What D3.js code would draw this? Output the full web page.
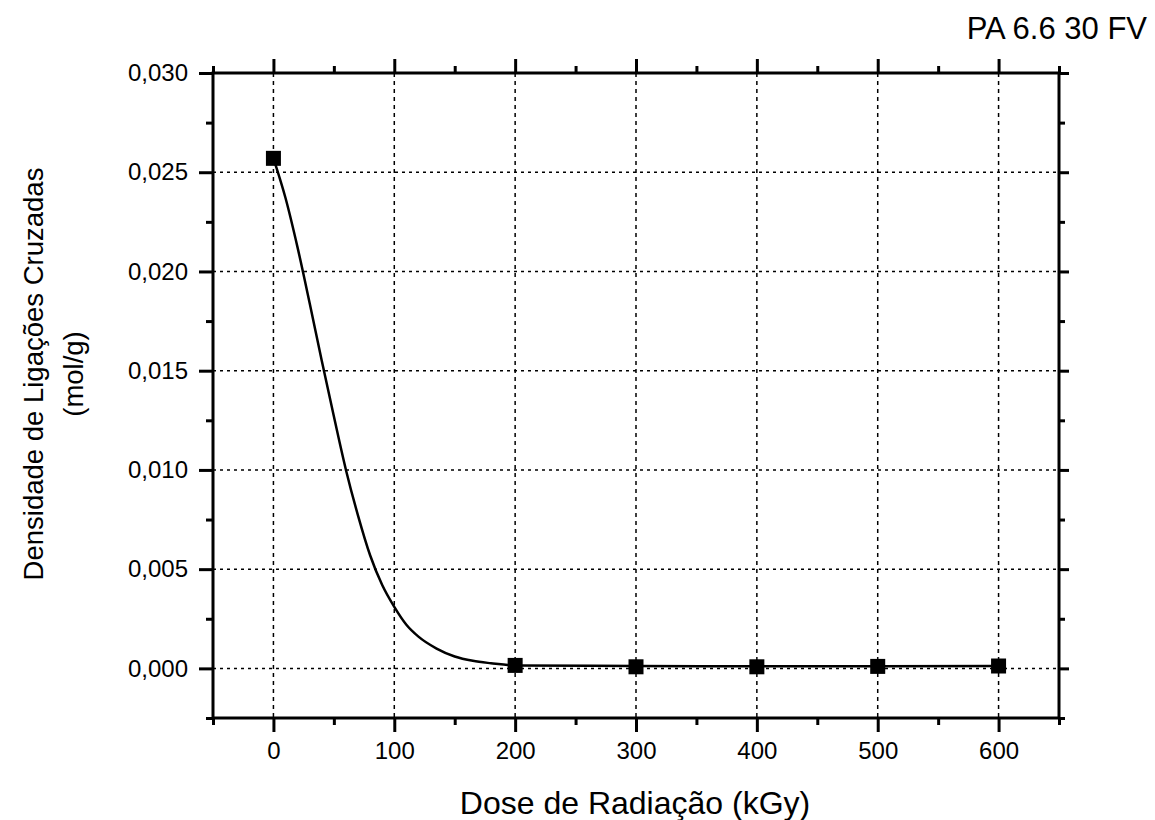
<html>
<head>
<style>
  body { margin: 0; background: #fff; }
  text { font-family: "Liberation Sans", Arial, sans-serif; fill: #000; }
</style>
</head>
<body>
<svg id="chart" width="1155" height="820"></svg>

<script src="https://cdn.jsdelivr.net/npm/d3@7"></script>
<script>
// measured points
var doses = [0, 200, 300, 400, 500, 600]
var density = [0.0257, 0.00015, 0.00008, 0.00008, 0.0001, 0.00012]

// fitted curve
var fitDose = [0, 10, 20, 30, 40, 50, 60, 70, 80, 90, 100, 110, 120, 135, 150, 165, 180, 200, 300, 400, 500, 600]
var fitDensity = [0.0257, 0.0237, 0.0212, 0.0184, 0.0155, 0.0127, 0.0100, 0.0077, 0.0057, 0.0042, 0.0031, 0.0022, 0.0016, 0.0010, 0.0006, 0.00038, 0.00026, 0.00015, 0.00012, 0.00011, 0.00011, 0.00012]

var xMajor = [0, 100, 200, 300, 400, 500, 600]
var xMinor = [-50, 50, 150, 250, 350, 450, 550, 650]
var yMajor = [0, 0.005, 0.010, 0.015, 0.020, 0.025, 0.030]
var yMinor = [-0.0025, 0.0025, 0.0075, 0.0125, 0.0175, 0.0225, 0.0275]

var margin = {left: 213, right: 1059, top: 73, bottom: 718}

var svg = d3.select('#chart')

var x = d3.scaleLinear().domain([-50, 650]).range([margin.left, margin.right])
var y = d3.scaleLinear().domain([-0.0025, 0.030]).range([margin.bottom, margin.top])

var fmt = function(d) { return d3.format('.3f')(d).replace('.', ',') }

// grid
var grid = svg.append('g')
grid.selectAll('.vg').data(xMajor).enter().append('line')
  .attr('x1', d => x(d)).attr('x2', d => x(d))
  .attr('y1', margin.top).attr('y2', margin.bottom)
  .attr('stroke', '#000').attr('stroke-width', 1.5).attr('stroke-dasharray', '4,4')
grid.selectAll('.hg').data(yMajor.slice(0, -1)).enter().append('line')
  .attr('y1', d => y(d)).attr('y2', d => y(d))
  .attr('x1', margin.left).attr('x2', margin.right)
  .attr('stroke', '#000').attr('stroke-width', 1.5).attr('stroke-dasharray', '3,4')

// axes, ticks outward on all four sides
function axis(gen, tr) {
  var g = svg.append('g').attr('transform', tr).call(gen)
  g.select('.domain').remove()
  g.selectAll('line').attr('stroke', '#000').attr('stroke-width', 3)
  return g
}
axis(d3.axisBottom(x).tickValues(xMajor).tickSize(14).tickPadding(10).tickFormat(d3.format('d')), 'translate(0,' + margin.bottom + ')')
  .selectAll('text').style('font-size', '24px')
axis(d3.axisBottom(x).tickValues(xMinor).tickSize(7).tickFormat(''), 'translate(0,' + margin.bottom + ')')
axis(d3.axisTop(x).tickValues(xMajor).tickSize(14).tickFormat(''), 'translate(0,' + margin.top + ')')
axis(d3.axisTop(x).tickValues(xMinor).tickSize(7).tickFormat(''), 'translate(0,' + margin.top + ')')
axis(d3.axisLeft(y).tickValues(yMajor).tickSize(14).tickPadding(11).tickFormat(fmt), 'translate(' + margin.left + ',0)')
  .selectAll('text').style('font-size', '24px')
axis(d3.axisLeft(y).tickValues(yMinor).tickSize(7).tickFormat(''), 'translate(' + margin.left + ',0)')
axis(d3.axisRight(y).tickValues(yMajor).tickSize(10).tickFormat(''), 'translate(' + margin.right + ',0)')
axis(d3.axisRight(y).tickValues(yMinor).tickSize(6).tickFormat(''), 'translate(' + margin.right + ',0)')

// frame
svg.append('rect')
  .attr('x', margin.left).attr('y', margin.top)
  .attr('width', margin.right - margin.left).attr('height', margin.bottom - margin.top)
  .attr('fill', 'none').attr('stroke', '#000').attr('stroke-width', 3)

// fitted curve
var line = d3.line()
  .x((d, i) => x(fitDose[i]))
  .y(d => y(d))
  .curve(d3.curveMonotoneX)
svg.append('path')
  .datum(fitDensity)
  .attr('d', line)
  .attr('fill', 'none').attr('stroke', '#000').attr('stroke-width', 2.5)

// markers
svg.selectAll('.pt').data(doses).enter().append('rect')
  .attr('x', d => x(d) - 7.5)
  .attr('y', (d, i) => y(density[i]) - 7.5)
  .attr('width', 15).attr('height', 15)
  .attr('fill', '#000')

// labels
svg.append('text')
  .attr('x', 635).attr('y', 814)
  .attr('text-anchor', 'middle').style('font-size', '32px')
  .text('Dose de Radiação (kGy)')

var yl = svg.append('text')
  .attr('transform', 'translate(43,374) rotate(-90)')
  .attr('text-anchor', 'middle').style('font-size', '27.5px')
yl.append('tspan').attr('x', 0).attr('dy', 0).text('Densidade de Ligações Cruzadas')
yl.append('tspan').attr('x', 0).attr('dy', 40).text('(mol/g)')

svg.append('text')
  .attr('x', 1147).attr('y', 39)
  .attr('text-anchor', 'end').style('font-size', '31px')
  .text('PA 6.6 30 FV')
</script>
</body>
</html>
